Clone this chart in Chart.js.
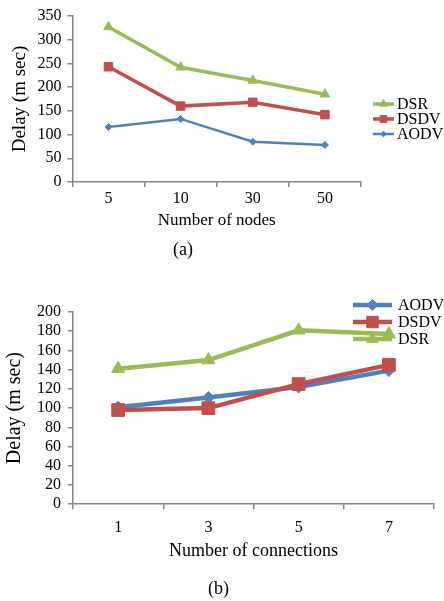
<!DOCTYPE html>
<html>
<head>
<meta charset="utf-8">
<title>Delay vs nodes / connections</title>
<script src="https://cdn.jsdelivr.net/npm/chart.js@4.4.1/dist/chart.umd.min.js"></script>
<style>
    body { margin: 0; background: #fff; }
    .fig { position: absolute; left: 0; width: 444px; }
    #figA { top: 0; height: 270px; }
    #figB { top: 270px; height: 331px; }
</style>
</head>
<body>
<div class="fig" id="figA"><canvas id="chartA" width="444" height="270"></canvas></div>
<div class="fig" id="figB"><canvas id="chartB" width="444" height="331"></canvas></div>

<script>
// (a) delay vs number of nodes
const nodeLabels = ['5', '10', '30', '50'];
const nodesDSR = [327, 242, 214, 185];
const nodesDSDV = [243, 160, 168, 142];
const nodesAODV = [116, 133, 85, 78];

// (b) delay vs number of connections
const connLabels = ['1', '3', '5', '7'];
const connAODV = [101, 111, 122, 139];
const connDSDV = [98, 100, 125, 145];
const connDSR = [141, 150, 181, 177];

const GREEN = '#9BBB59';
const RED = '#C0504D';
const BLUE = '#4F81BD';
const AXIS = '#868686';
const FONT = '"Liberation Serif", "Times New Roman", serif';

// legend drawn as line + marker, placed where the original figure has it
const lineLegend = {
    id: 'lineLegend',
    afterDatasetsDraw(chart, args, opts) {
        const ctx = chart.ctx;
        ctx.save();
        ctx.font = opts.fontSize + 'px ' + FONT;
        ctx.textBaseline = 'middle';
        opts.order.forEach((label, i) => {
            const ds = chart.data.datasets.find(d => d.label === label);
            const y = opts.y + i * opts.rowHeight;
            ctx.strokeStyle = ds.borderColor;
            ctx.lineWidth = ds.borderWidth;
            ctx.beginPath();
            ctx.moveTo(opts.x, y);
            ctx.lineTo(opts.x + opts.lineLength, y);
            ctx.stroke();
            ctx.fillStyle = ds.borderColor;
            ctx.lineWidth = 1;
            Chart.helpers.drawPoint(ctx, {
                pointStyle: ds.pointStyle,
                radius: ds.pointRadius * opts.markerScale,
                borderWidth: 1,
                rotation: 0
            }, opts.x + opts.lineLength / 2, y);
            ctx.fillStyle = '#000';
            ctx.fillText(label, opts.x + opts.lineLength + opts.gap, y + 1);
        });
        ctx.restore();
    }
};

function series(label, data, color, style, radius, width) {
    return {
        label: label,
        data: data,
        borderColor: color,
        backgroundColor: color,
        pointBackgroundColor: color,
        pointBorderColor: color,
        pointStyle: style,
        pointRadius: radius,
        pointHoverRadius: radius,
        pointBorderWidth: 1,
        borderWidth: width,
        tension: 0,
        fill: false
    };
}

// note: chart.js reserves tick padding twice in the axis size
function axes(cfg) {
    return {
        x: {
            offset: true,
            grid: {
                offset: true,
                drawOnChartArea: false,
                drawTicks: true,
                tickLength: 5,
                color: AXIS,
                lineWidth: 1.5
            },
            border: { display: true, color: AXIS, width: 1.5 },
            ticks: { color: '#000', font: { family: FONT, size: 16 }, padding: cfg.xTickPad, maxRotation: 0 },
            title: {
                display: true,
                text: cfg.xTitle,
                color: '#000',
                font: { family: FONT, size: cfg.xTitleSize },
                padding: cfg.xTitlePad
            }
        },
        y: {
            min: 0,
            max: cfg.yMax,
            grid: {
                drawOnChartArea: false,
                drawTicks: true,
                tickLength: 5,
                color: AXIS,
                lineWidth: 1.5
            },
            border: { display: true, color: AXIS, width: 1.5 },
            ticks: {
                stepSize: cfg.yStep,
                autoSkip: false,
                color: '#000',
                font: { family: FONT, size: 16 },
                padding: cfg.yTickPad
            },
            title: {
                display: true,
                text: 'Delay (m sec)',
                color: '#000',
                font: { family: FONT, size: cfg.yTitleSize },
                padding: cfg.yTitlePad
            }
        }
    };
}

function caption(text) {
    return {
        display: true,
        text: text,
        position: 'bottom',
        color: '#000',
        font: { family: FONT, size: 18, weight: 'normal' },
        padding: { top: 0, bottom: 0 }
    };
}

new Chart(document.getElementById('chartA'), {
    type: 'line',
    data: {
        labels: nodeLabels,
        datasets: [
            series('DSR', nodesDSR, GREEN, 'triangle', 5.5, 3.5),
            series('DSDV', nodesDSDV, RED, 'rect', 6, 3.5),
            series('AODV', nodesAODV, BLUE, 'rectRot', 3.5, 2.5)
        ]
    },
    options: {
        responsive: false,
        animation: false,
        layout: { padding: { left: 5, right: 83, top: 16, bottom: 9 } },
        scales: axes({
            xTitle: 'Number of nodes', xTitleSize: 17, xTickPad: 2.4, xTitlePad: { top: -1, bottom: 9 },
            yMax: 350, yStep: 50, yTitleSize: 19, yTickPad: 6, yTitlePad: { top: 3.6, bottom: 0 }
        }),
        plugins: {
            legend: { display: false },
            tooltip: { enabled: false },
            title: caption('(a)'),
            lineLegend: {
                x: 373, y: 104, rowHeight: 15, lineLength: 21, gap: 3,
                fontSize: 16, markerScale: 0.8,
                order: ['DSR', 'DSDV', 'AODV']
            }
        }
    },
    plugins: [lineLegend]
});

new Chart(document.getElementById('chartB'), {
    type: 'line',
    data: {
        labels: connLabels,
        datasets: [
            series('DSR', connDSR, GREEN, 'triangle', 7.5, 4.5),
            series('DSDV', connDSDV, RED, 'rect', 9, 4.5),
            series('AODV', connAODV, BLUE, 'rectRot', 6, 4.5)
        ]
    },
    options: {
        responsive: false,
        animation: false,
        layout: { padding: { left: 0, right: 7, top: 42, bottom: 1 } },
        scales: axes({
            xTitle: 'Number of connections', xTitleSize: 18, xTickPad: 9.4, xTitlePad: { top: -7, bottom: 16.6 },
            yMax: 200, yStep: 20, yTitleSize: 20, yTickPad: 7, yTitlePad: { top: 3, bottom: 3 }
        }),
        plugins: {
            legend: { display: false },
            tooltip: { enabled: false },
            title: caption('(b)'),
            lineLegend: {
                x: 353, y: 35, rowHeight: 17, lineLength: 39, gap: 6,
                fontSize: 16, markerScale: 0.9,
                order: ['AODV', 'DSDV', 'DSR']
            }
        }
    },
    plugins: [lineLegend]
});
</script>
</body>
</html>
